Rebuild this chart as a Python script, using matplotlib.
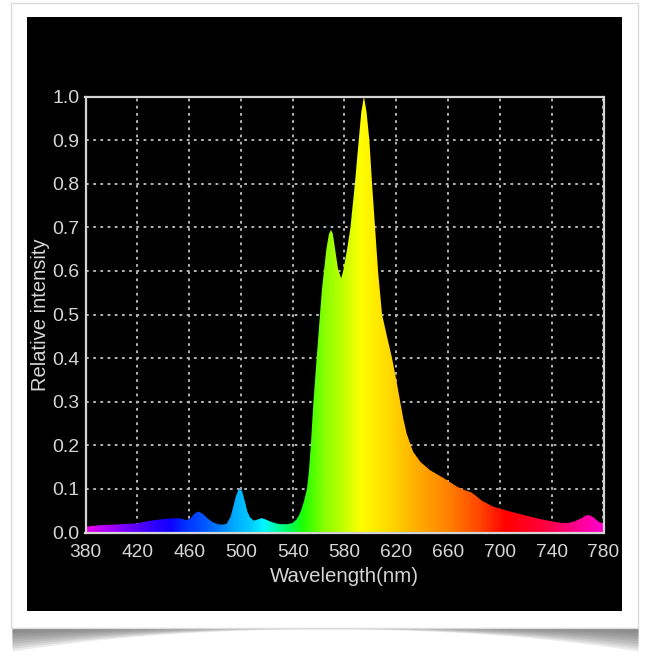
import numpy as np
import matplotlib
matplotlib.use("Agg")
import matplotlib.pyplot as plt
from matplotlib.colors import LinearSegmentedColormap, Normalize
from matplotlib.patches import Rectangle, PathPatch

# ---- data ----
wavelength = [380, 385, 392, 400, 407, 414, 420, 425, 430, 438, 445, 451, 455, 458,
              461, 464, 467, 470, 474, 478, 482, 486, 489, 492, 494, 496, 498, 499.5,
              501, 503, 505, 507, 510, 513, 516, 519, 523, 527, 531, 536, 540, 543,
              545, 547, 549, 551, 552.5, 554, 556, 558.5, 562.5, 566, 568, 569.6, 571,
              573, 575, 577.4, 579, 582, 584.6, 588, 591, 593, 595, 597, 599.2, 601.3,
              603.6, 605.9, 609, 612.8, 616.7, 620, 623, 625.5, 628, 633, 638.6, 646,
              657, 667, 673, 678, 682, 686, 695, 708, 721, 734, 747, 753, 758, 763,
              767, 770, 773, 776, 780]
intensity = [0.013, 0.015, 0.017, 0.018, 0.019, 0.020, 0.021, 0.024, 0.027, 0.030, 0.032,
             0.033, 0.031, 0.028, 0.032, 0.043, 0.048, 0.044, 0.033, 0.024, 0.019, 0.018,
             0.020, 0.036, 0.058, 0.082, 0.097, 0.101, 0.094, 0.072, 0.048, 0.035, 0.027,
             0.030, 0.033, 0.030, 0.025, 0.021, 0.019, 0.019, 0.022, 0.030, 0.040, 0.055,
             0.075, 0.10, 0.14, 0.20, 0.30, 0.40, 0.556, 0.65, 0.685, 0.694, 0.685, 0.645,
             0.605, 0.583, 0.60, 0.65, 0.70, 0.80, 0.90, 0.965, 1.0, 0.965, 0.90, 0.80,
             0.70, 0.60, 0.50, 0.45, 0.40, 0.35, 0.30, 0.26, 0.227, 0.185, 0.162, 0.143,
             0.124, 0.105, 0.097, 0.092, 0.083, 0.073, 0.059, 0.048, 0.038, 0.029, 0.022,
             0.022, 0.026, 0.033, 0.040, 0.039, 0.033, 0.025, 0.020]

x_ticks = [380, 420, 460, 500, 540, 580, 620, 660, 700, 740, 780]
y_ticks = [0.0, 0.1, 0.2, 0.3, 0.4, 0.5, 0.6, 0.7, 0.8, 0.9, 1.0]
y_tick_labels = ["0.0", "0.1", "0.2", "0.3", "0.4", "0.5", "0.6", "0.7", "0.8", "0.9", "1.0"]

spectrum_wl = [380, 394, 412, 430, 445, 456, 469, 481, 494, 507, 517, 527, 538, 548,
               564, 577, 592, 615, 638, 661, 685, 705, 731, 757, 780]
spectrum_col = ["#ee00ee", "#b000ff", "#7000ff", "#3300ff", "#1000ff", "#0030ff", "#0050ff",
                "#0078ff", "#00aaff", "#00ccff", "#00f5ff", "#00ffaa", "#00ff50", "#20ff00",
                "#88ff00", "#bbff00", "#ffff00", "#ffd800", "#ffa800", "#ff8000", "#ff4400",
                "#ff0000", "#ff0033", "#ff0088", "#ff00cc"]

plt.rcParams['font.family'] = ['Liberation Sans', 'DejaVu Sans']

W, H = 650, 661
fig = plt.figure(figsize=(W / 100, H / 100), dpi=100, facecolor="white")

# ---- background card, shadow and black panel (pixel coordinates) ----
bg = fig.add_axes([0, 0, 1, 1])
bg.set_xlim(0, W)
bg.set_ylim(H, 0)
bg.axis("off")
xs = np.linspace(12, 638, 300)
u = (xs - 325) / 313
for k in range(10):
    depth = 3 + (25 - 3) * np.abs(u) ** 2.2
    bot = 626 + depth * (1 - k / 10.0)
    bg.fill_between(xs, 600, bot, color="#505050", alpha=0.11, lw=0)
bg.add_patch(Rectangle((11, 3), 627, 625, facecolor="white", edgecolor="#dcdcdc", lw=1))
bg.add_patch(Rectangle((27, 17), 595, 594, facecolor="black", edgecolor="none"))

# ---- main axes ----
left, right, top, bottom = 85.5, 603.5, 96.5, 532.5
ax = fig.add_axes([left / W, 1 - bottom / H, (right - left) / W, (bottom - top) / H])
ax.set_facecolor("black")
ax.set_xlim(380, 780)
ax.set_ylim(0, 1)

cmap = LinearSegmentedColormap.from_list(
    "spec", [((w - 380) / 400.0, c) for w, c in zip(spectrum_wl, spectrum_col)])
grad = np.linspace(380, 780, 1200).reshape(1, -1)
im = ax.imshow(grad, cmap=cmap, norm=Normalize(380, 780), extent=(380, 780, 0, 1),
               aspect="auto", origin="lower", zorder=2, interpolation="bilinear")
poly = ax.fill_between(wavelength, 0, intensity, facecolor="none", edgecolor="none")
patch = PathPatch(poly.get_paths()[0], transform=ax.transData,
                  facecolor="none", edgecolor="none")
ax.add_patch(patch)
im.set_clip_path(patch)

ax.set_axisbelow(True)
ax.grid(True, color="#b4b4b4", linewidth=1.4, linestyle=(0, (1.4, 2.3)))
ax.set_xticks(x_ticks)
ax.set_yticks(y_ticks)
ax.set_yticklabels(y_tick_labels)
ax.tick_params(axis="x", length=0, pad=8.0, labelsize=13.8, labelcolor="#d6d6d6")
ax.tick_params(axis="y", length=0, pad=4.3, labelsize=14, labelcolor="#d6d6d6")
for s in ax.spines.values():
    s.set_color("#d4d4d4")
    s.set_linewidth(1.6)
    s.set_zorder(5)

ax.set_xlabel("Wavelength(nm)", fontsize=14.7, color="#d6d6d6")
ax.xaxis.set_label_coords(0.5, -0.079)
ax.set_ylabel("Relative intensity", fontsize=14.5, color="#d6d6d6")
ax.yaxis.set_label_coords(-0.068, 0.5)

fig.savefig("out.png", dpi=100, facecolor="white")
